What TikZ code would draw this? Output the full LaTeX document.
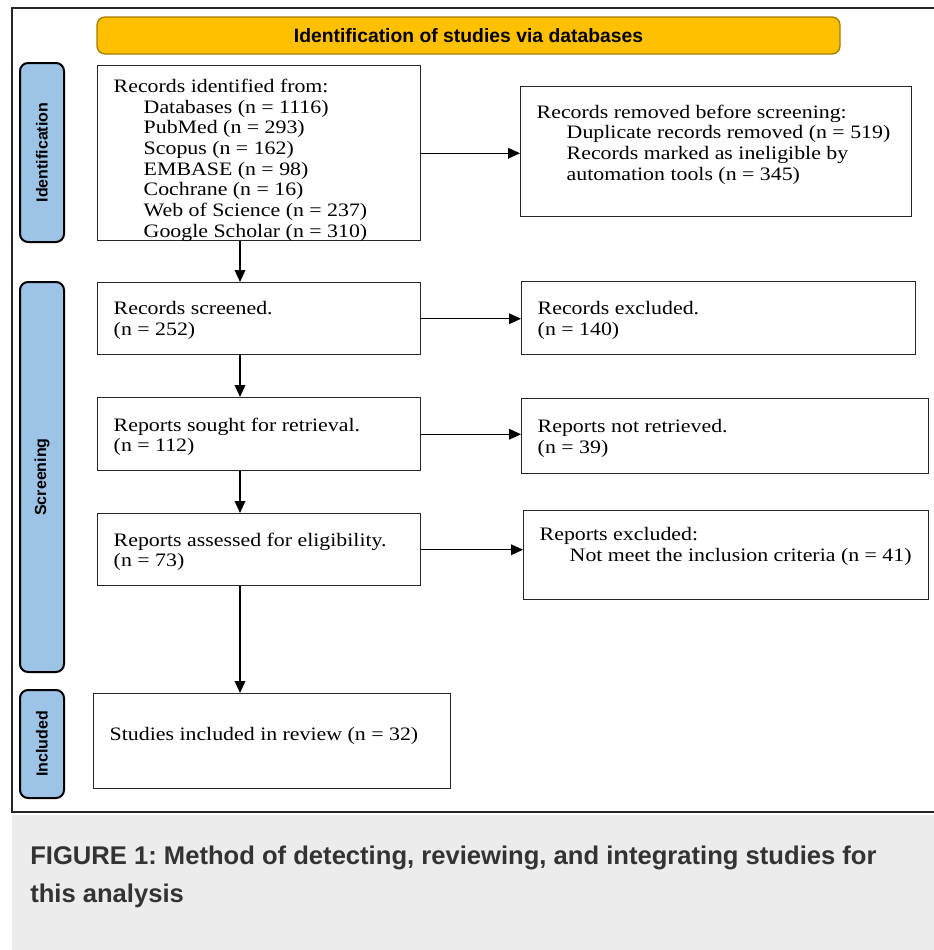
\documentclass[tikz,border=0pt]{standalone}
\usepackage{fontspec}
\setmainfont{Liberation Serif}[FakeStretch=1.15]
\setsansfont{Liberation Sans}
\usepackage{xcolor}
\usetikzlibrary{arrows.meta}
\definecolor{bannergold}{HTML}{FFC000}
\definecolor{bannerline}{HTML}{A67C00}
\definecolor{phaseblue}{HTML}{9DC3E6}
\definecolor{boxline}{HTML}{262626}
\definecolor{capgray}{HTML}{ECECEC}
\definecolor{captext}{HTML}{333333}
\frenchspacing

% width, height, top gap, text
\newcommand{\flowtext}[4]{\begin{minipage}[c][#2][t]{#1}\vspace*{#3}#4\end{minipage}}
\newcommand{\ind}{\hspace*{22.5pt}}

\tikzset{
    pbox/.style={draw=boxline, line width=1.1pt, fill=white, anchor=north west,
        inner xsep=12pt, inner ysep=0pt, font=\fontsize{14.25}{15.5}\selectfont},
    phase/.style={draw=black, line width=1.5pt, fill=phaseblue, rounded corners=6pt,
        minimum height=33pt, inner sep=0pt, rotate=90,
        font=\sffamily\bfseries\fontsize{12}{14}\selectfont},
    banner/.style={draw=bannerline, line width=1pt, fill=bannergold, rounded corners=6pt,
        minimum width=557.25pt, minimum height=27.75pt, inner sep=0pt,
        font=\sffamily\bfseries\fontsize{14.5}{17}\selectfont},
    arr/.style={draw=black, line width=1pt, -{Triangle[length=9pt,width=8pt]}}
}

\begin{document}
\begin{tikzpicture}[x=0.75pt, y=-0.75pt]
    \useasboundingbox (0,0) rectangle (934,950);
    \fill[capgray] (12,815) rectangle (934,950);
    \draw[boxline, line width=1.5pt] (934,8) -- (12,8) -- (12,812) -- (934,812);

    \node[banner] (head) at (468.5,35.5) {Identification of studies via databases};

    \node[phase, minimum width=134.25pt] (idphase) at (42,152.5) {Identification};
    \node[phase, minimum width=292.5pt] (scphase) at (42,477) {Screening};
    \node[phase, minimum width=81pt] (inphase) at (42,744) {Included};

    % left column
    \node[pbox] (ident) at (97,65) {\flowtext{218.25pt}{131.25pt}{10pt}{%
        Records identified from:\\
        \ind Databases (n = 1116)\\
        \ind PubMed (n = 293)\\
        \ind Scopus (n = 162)\\
        \ind EMBASE (n = 98)\\
        \ind Cochrane (n = 16)\\
        \ind Web of Science (n = 237)\\
        \ind Google Scholar (n = 310)}};
    \node[pbox] (screened) at (97,282) {\flowtext{218.25pt}{54pt}{14.25pt}{%
        Records screened.\\(n = 252)}};
    \node[pbox] (sought) at (97,397) {\flowtext{218.25pt}{54.75pt}{15pt}{%
        Reports sought for retrieval.\\(n = 112)}};
    \node[pbox] (assessed) at (97,513) {\flowtext{218.25pt}{54pt}{14.25pt}{%
        Reports assessed for eligibility.\\(n = 73)}};
    \node[pbox] (included) at (93,693) {\flowtext{243.75pt}{71.25pt}{25.5pt}{%
        Studies included in review (n = 32)}};

    % right column
    \node[pbox] (removed) at (520,86) {\flowtext{269.25pt}{97.5pt}{13.5pt}{%
        Records removed before screening:\\
        \ind Duplicate records removed (n = 519)\\
        \ind Records marked as ineligible by\\
        \ind automation tools (n = 345)}};
    \node[pbox] (excluded) at (521,281) {\flowtext{271.5pt}{54.75pt}{15pt}{%
        Records excluded.\\(n = 140)}};
    \node[pbox] (notretr) at (521,398) {\flowtext{281.25pt}{56.25pt}{15.75pt}{%
        Reports not retrieved.\\(n = 39)}};
    \node[pbox] (repexcl) at (523,510) {\flowtext{279.75pt}{66.75pt}{12.75pt}{%
        Reports excluded:\\
        \ind Not meet the inclusion criteria (n = 41)}};

    \coordinate (spine) at (240,0);
    \draw[arr] (ident.south -| spine) -- (screened.north -| spine);
    \draw[arr] (screened.south -| spine) -- (sought.north -| spine);
    \draw[arr] (sought.south -| spine) -- (assessed.north -| spine);
    \draw[arr] (assessed.south -| spine) -- (included.north -| spine);

    \draw[arr] (ident.east) -- (ident.east -| removed.west);
    \draw[arr] (screened.east) -- (screened.east -| excluded.west);
    \draw[arr] (sought.east) -- (sought.east -| notretr.west);
    \draw[arr] (assessed.east) -- (assessed.east -| repexcl.west);

    \node[anchor=north west, inner sep=0pt, align=left, text=captext,
        font=\sffamily\bfseries\fontsize{19.2}{28.5}\selectfont] (caption) at (30,846)
        {FIGURE 1: Method of detecting, reviewing, and integrating studies for\\this analysis};
\end{tikzpicture}
\end{document}
